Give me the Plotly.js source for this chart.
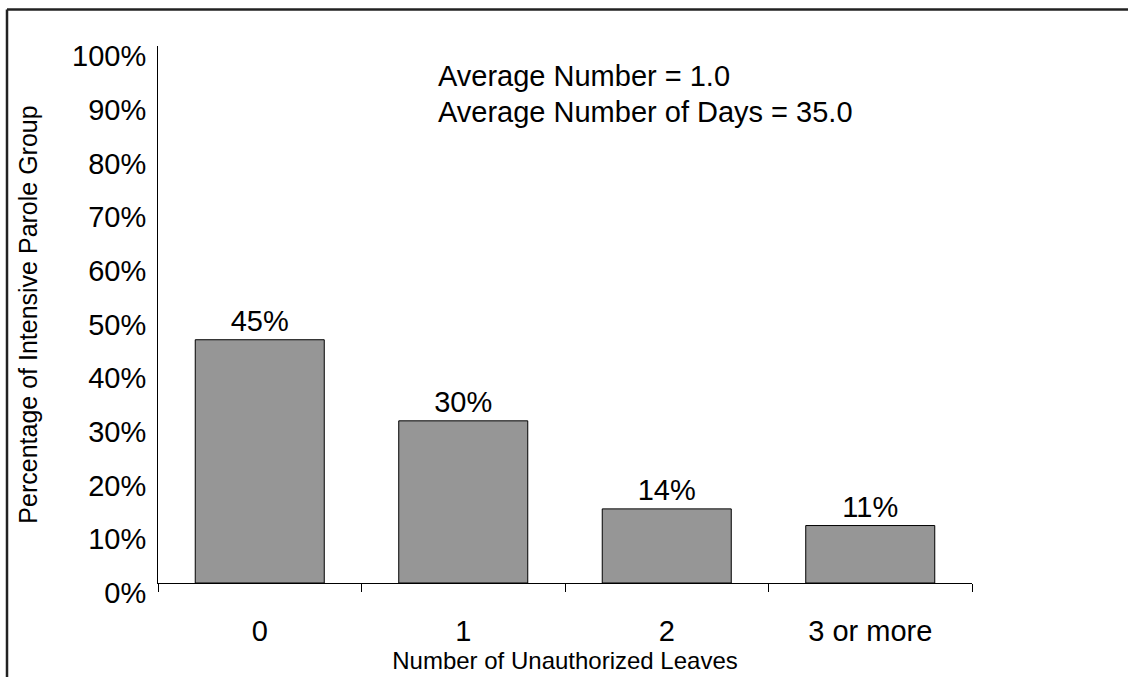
<!DOCTYPE html>
<html>
<head>
<meta charset="utf-8">
<script src="https://cdn.plot.ly/plotly-3.0.1.min.js"></script>
<style>html,body{margin:0;padding:0;background:#fff;}#chart{width:1128px;height:677px;}</style>
</head>
<body>
<div id="chart"></div>
<script>
const categories = ["0", "1", "2", "3 or more"];
const percentValues = [45.3, 30.2, 13.8, 10.7];
const valueLabels = ["45%", "30%", "14%", "11%"];
const yTickValues = [0, 10, 20, 30, 40, 50, 60, 70, 80, 90, 100];
const yTickLabels = ["0%", "10%", "20%", "30%", "40%", "50%", "60%", "70%", "80%", "90%", "100%"];
const noteLines = ["Average Number = 1.0", "Average Number of Days = 35.0"];
const xTitle = "Number of Unauthorized Leaves";
const yTitle = "Percentage of Intensive Parole Group";

const FONT = "Liberation Sans, Arial, Helvetica, sans-serif";

const trace = {
  type: "bar",
  x: categories,
  y: percentValues,
  text: valueLabels,
  textposition: "outside",
  textfont: {family: FONT, size: 29, color: "#000"},
  cliponaxis: false,
  marker: {color: "#969696", line: {color: "#000", width: 1}},
  hoverinfo: "skip"
};

const frameLeft = (7 - 158) / 814;
const frameTop = 1 + (46 - 9.5) / 537;

const layout = {
  width: 1128,
  height: 677,
  margin: {l: 158, r: 156, t: 46, b: 94, pad: 0},
  paper_bgcolor: "#fff",
  plot_bgcolor: "#fff",
  showlegend: false,
  bargap: 0.366,
  font: {family: FONT, color: "#000"},
  xaxis: {
    type: "category",
    tickson: "boundaries",
    ticks: "outside",
    ticklen: 8,
    tickwidth: 1,
    tickcolor: "#000",
    showline: true,
    linecolor: "#000",
    linewidth: 1,
    showgrid: false,
    zeroline: false,
    tickfont: {family: FONT, size: 29, color: "#000"},
    ticklabelstandoff: 22,
    title: {text: xTitle, font: {family: FONT, size: 24, color: "#000"}, standoff: 2},
    fixedrange: true
  },
  yaxis: {
    range: [0, 100],
    tickmode: "array",
    tickvals: yTickValues,
    ticktext: yTickLabels,
    ticks: "",
    showline: true,
    linecolor: "#000",
    linewidth: 1,
    showgrid: false,
    zeroline: false,
    tickfont: {family: FONT, size: 29, color: "#000"},
    ticklabelshift: 10,
    ticklabelstandoff: 5,
    title: {text: yTitle, font: {family: FONT, size: 25, color: "#000"}, standoff: 27},
    fixedrange: true
  },
  annotations: noteLines.map((t, i) => ({
    xref: "paper", yref: "paper",
    x: (436 - 158) / 814,
    y: i === 0 ? 0.944 : 0.877,
    xanchor: "left", yanchor: "middle",
    showarrow: false,
    text: t,
    font: {family: FONT, size: 29, color: "#000"}
  })),
  shapes: [
    {
      type: "line", xref: "paper", yref: "paper",
      x0: frameLeft, x1: 2, y0: frameTop, y1: frameTop,
      line: {color: "#222", width: 2.5}, layer: "above"
    },
    {
      type: "line", xref: "paper", yref: "paper",
      x0: frameLeft, x1: frameLeft, y0: -2, y1: frameTop,
      line: {color: "#222", width: 2.5}, layer: "above"
    }
  ]
};

Plotly.newPlot("chart", [trace], layout, {displayModeBar: false, staticPlot: true});
</script>
</body>
</html>
